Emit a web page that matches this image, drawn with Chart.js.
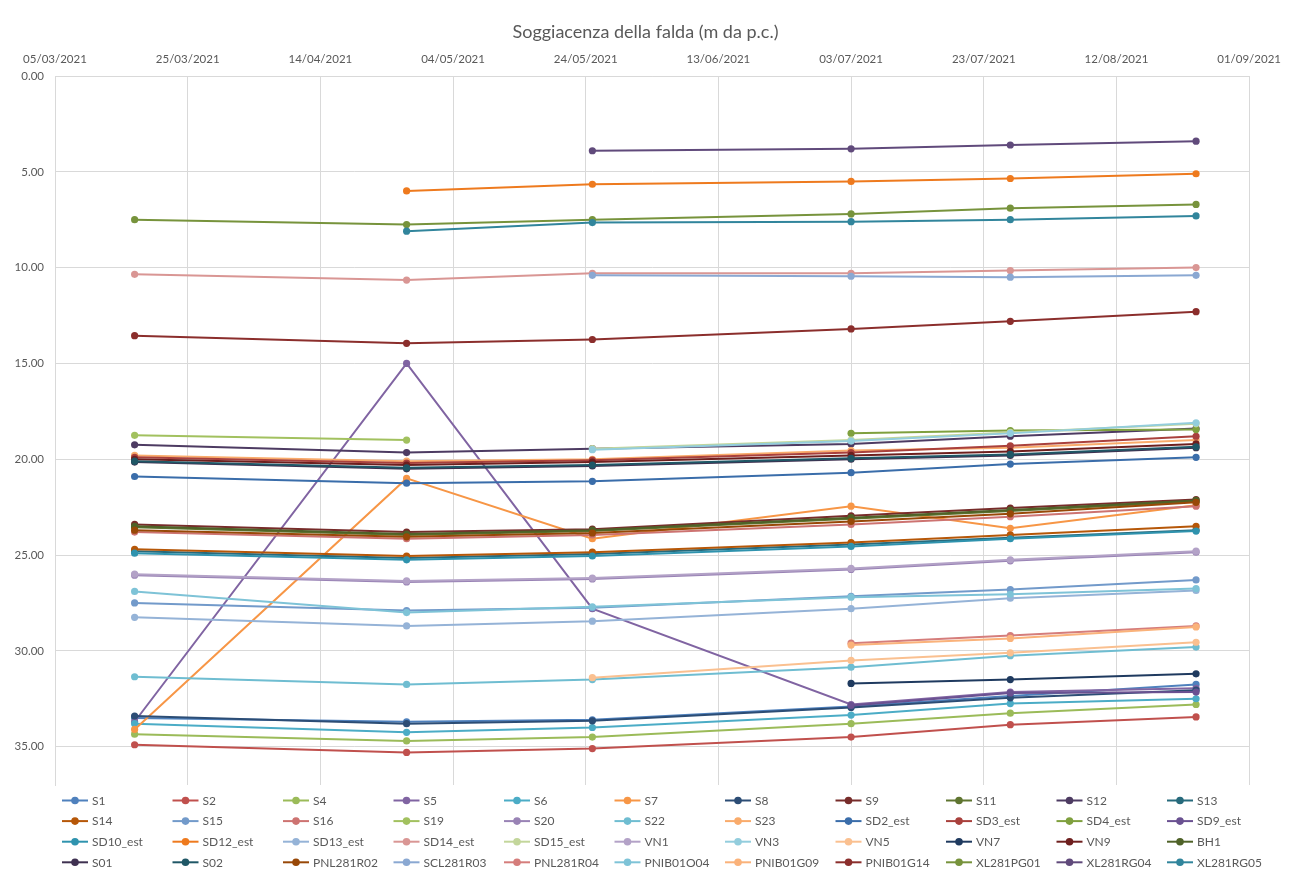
<!DOCTYPE html>
<html>
<head>
<meta charset="utf-8">
<script src="https://cdn.jsdelivr.net/npm/chart.js@4.4.1/dist/chart.umd.min.js"></script>
<style>
  html, body { margin: 0; padding: 0; background: #ffffff; }
  #c { display: block; }
</style>
</head>
<body>
<canvas id="c" width="1291" height="876"></canvas>
<script>
// Survey dates
const dates = ['17/03/2021', '27/04/2021', '25/05/2021', '03/07/2021', '27/07/2021', '24/08/2021'];

// Depth to water table (m below ground level), one value per survey date
const S1 = [33.5, 33.7, 33.6, 32.9, 32.35, 31.75];
const S2 = [34.9, 35.3, 35.1, 34.5, 33.85, 33.45];
const S4 = [34.35, 34.7, 34.5, 33.8, 33.25, 32.8];
const S5 = [33.7, 15.0, 27.8, 32.8, 32.15, 31.95];
const S6 = [33.8, 34.25, 34.0, 33.35, 32.75, 32.5];
const S7 = [34.1, 21.0, 24.15, 22.45, 23.6, 22.4];
const S8 = [33.4, 33.8, 33.65, 32.95, 32.45, 32.05];
const S9 = [23.4, 23.8, 23.65, 22.95, 22.55, 22.1];
const S11 = [23.55, 23.95, 23.75, 23.1, 22.7, 22.2];
const S12 = [19.25, 19.65, 19.45, 19.2, 18.8, 18.4];
const S13 = [24.8, 25.15, 24.95, 24.45, 24.1, 23.7];
const S14 = [24.7, 25.05, 24.85, 24.35, 23.95, 23.5];
const S15 = [27.5, 27.9, 27.75, 27.15, 26.8, 26.3];
const S16 = [23.8, 24.15, 23.95, 23.4, 23.0, 22.45];
const S19 = [18.75, 19.0, null, null, null, null];
const S20 = [26.05, 26.4, 26.25, 25.75, 25.3, 24.85];
const S22 = [31.35, 31.75, 31.5, 30.85, 30.25, 29.8];
const S23 = [19.8, 20.1, 20.0, 19.55, 19.4, 19.0];
const SD2_est = [20.9, 21.25, 21.15, 20.7, 20.25, 19.9];
const SD3_est = [19.9, 20.2, 20.05, 19.65, 19.3, 18.8];
const SD4_est = [null, null, null, 18.65, 18.5, 18.45];
const SD9_est = [null, null, null, 32.85, 32.2, 32.15];
const SD10_est = [24.9, 25.25, 25.05, 24.55, 24.15, 23.75];
const SD12_est = [null, 6.0, 5.65, 5.5, 5.35, 5.1];
const SD13_est = [28.25, 28.7, 28.45, 27.8, 27.25, 26.85];
const SD14_est = [10.35, 10.65, 10.3, 10.3, 10.15, 10.0];
const SD15_est = [null, null, 19.45, 19.0, 18.6, 18.15];
const VN1 = [26.0, 26.35, 26.2, 25.7, 25.25, 24.8];
const VN3 = [null, null, 19.5, 19.05, 18.65, 18.1];
const VN5 = [null, null, 31.4, 30.5, 30.1, 29.55];
const VN7 = [null, null, null, 31.7, 31.5, 31.2];
const VN9 = [20.0, 20.3, 20.15, 19.8, 19.6, 19.2];
const BH1 = [23.5, 23.9, 23.7, 23.05, 22.65, 22.15];
const S01 = [20.15, 20.5, 20.35, 20.0, 19.8, 19.4];
const S02 = [20.1, 20.45, 20.3, 19.95, 19.75, 19.35];
const PNL281R02 = [23.7, 24.05, 23.85, 23.25, 22.85, 22.25];
const SCL281R03 = [null, null, 10.4, 10.45, 10.5, 10.4];
const PNL281R04 = [null, null, null, 29.6, 29.2, 28.7];
const PNIB01O04 = [26.9, 28.0, 27.7, 27.2, 27.05, 26.75];
const PNIB01G09 = [null, null, null, 29.7, 29.35, 28.75];
const PNIB01G14 = [13.55, 13.95, 13.75, 13.2, 12.8, 12.3];
const XL281PG01 = [7.5, 7.75, 7.5, 7.2, 6.9, 6.7];
const XL281RG04 = [null, null, 3.9, 3.8, 3.6, 3.4];
const XL281RG05 = [null, 8.1, 7.65, 7.6, 7.5, 7.3];

const seriesNames = [
  'S1', 'S2', 'S4', 'S5', 'S6', 'S7', 'S8', 'S9', 'S11', 'S12', 'S13',
  'S14', 'S15', 'S16', 'S19', 'S20', 'S22', 'S23', 'SD2_est', 'SD3_est', 'SD4_est', 'SD9_est',
  'SD10_est', 'SD12_est', 'SD13_est', 'SD14_est', 'SD15_est', 'VN1', 'VN3', 'VN5', 'VN7', 'VN9', 'BH1',
  'S01', 'S02', 'PNL281R02', 'SCL281R03', 'PNL281R04', 'PNIB01O04', 'PNIB01G09', 'PNIB01G14', 'XL281PG01', 'XL281RG04', 'XL281RG05'
];
const seriesValues = [
  S1, S2, S4, S5, S6, S7, S8, S9, S11, S12, S13,
  S14, S15, S16, S19, S20, S22, S23, SD2_est, SD3_est, SD4_est, SD9_est,
  SD10_est, SD12_est, SD13_est, SD14_est, SD15_est, VN1, VN3, VN5, VN7, VN9, BH1,
  S01, S02, PNL281R02, SCL281R03, PNL281R04, PNIB01O04, PNIB01G09, PNIB01G14, XL281PG01, XL281RG04, XL281RG05
];
const seriesColors = [
  '#4F81BD', '#C0504D', '#9BBB59', '#8064A2', '#4BACC6', '#F79646', '#2C4D75', '#772C2A', '#5F7530', '#4D3B62', '#276A7C',
  '#B65708', '#729ACA', '#CD7371', '#A2C15F', '#9983B5', '#6FBDD1', '#F9AB6B', '#3A6DAA', '#A9403C', '#7FA03E', '#6A5191',
  '#2F93AE', '#EE7A1E', '#95B3D7', '#D99694', '#C3D69B', '#B3A2C7', '#93CDDD', '#FAC090', '#1F3A5F', '#6E1F1E', '#4F6228',
  '#3F3151', '#1F5766', '#984807', '#8AA8D2', '#D57D7B', '#7EC3D7', '#FAB27A', '#8B2E2C', '#77933C', '#604A7B', '#31859C'
];

// Time axis: days counted from 05/03/2021
const DAY = 86400000;
const START = Date.UTC(2021, 2, 5);
function dayOf(s) {
  const [d, m, y] = s.split('/').map(Number);
  return Math.round((Date.UTC(y, m - 1, d) - START) / DAY);
}
function fmtDay(v) {
  const dt = new Date(START + v * DAY);
  const dd = String(dt.getUTCDate()).padStart(2, '0');
  const mm = String(dt.getUTCMonth() + 1).padStart(2, '0');
  return dd + '/' + mm + '/' + dt.getUTCFullYear();
}
const xDays = dates.map(dayOf);

const datasets = seriesNames.map((name, i) => ({
  label: name,
  data: seriesValues[i].map((v, k) => (v === null ? null : { x: xDays[k], y: v })).filter(p => p !== null),
  borderColor: seriesColors[i],
  backgroundColor: seriesColors[i],
  pointBackgroundColor: seriesColors[i],
  pointBorderColor: seriesColors[i],
  borderWidth: 2,
  pointRadius: 3.6,
  pointBorderWidth: 0,
  tension: 0,
  yAxisID: 'y',
  order: seriesNames.length - i
}));

// Legend laid out as a fixed grid of 11 columns under the plot
const gridLegend = {
  id: 'gridLegend',
  afterDraw(chart) {
    const ctx = chart.ctx;
    ctx.save();
    ctx.font = '12px Lato';
    ctx.textBaseline = 'middle';
    ctx.textAlign = 'left';
    chart.data.datasets.forEach((ds, i) => {
      const col = i % 11;
      const row = Math.floor(i / 11);
      const x = 62 + col * 110.5;
      const y = 800.5 + row * 20.6;
      ctx.strokeStyle = ds.borderColor;
      ctx.lineWidth = 2;
      ctx.beginPath();
      ctx.moveTo(x, y);
      ctx.lineTo(x + 26, y);
      ctx.stroke();
      ctx.fillStyle = ds.borderColor;
      ctx.beginPath();
      ctx.arc(x + 13, y, 3.8, 0, Math.PI * 2);
      ctx.fill();
      ctx.fillStyle = '#595959';
      ctx.fillText(ds.label, x + 30, y + 0.5);
    });
    ctx.restore();
  }
};

new Chart(document.getElementById('c'), {
  type: 'line',
  data: { datasets },
  options: {
    responsive: false,
    animation: false,
    devicePixelRatio: 1,
    layout: { padding: { top: 0, left: 0, right: 0, bottom: 91 } },
    plugins: {
      legend: { display: false },
      tooltip: { enabled: false },
      title: {
        display: true,
        text: 'Soggiacenza della falda (m da p.c.)',
        color: '#595959',
        font: { family: 'Lato', size: 18, weight: 'normal' },
        padding: { top: 21, bottom: 7 }
      }
    },
    scales: {
      x: {
        type: 'linear',
        position: 'top',
        min: 0,
        max: 180,
        afterFit(s) { s.height = 76 - 49.6; },
        ticks: {
          stepSize: 20,
          color: '#595959',
          font: { family: 'Lato', size: 11.5 },
          padding: 10,
          maxRotation: 0,
          autoSkip: false,
          callback: v => fmtDay(v)
        },
        grid: { color: '#D9D9D9', lineWidth: 1, drawTicks: false },
        border: { color: '#D9D9D9' }
      },
      y: {
        type: 'linear',
        position: 'left',
        reverse: true,
        min: 0,
        max: 37,
        afterFit(s) { s.width = 55; },
        ticks: {
          stepSize: 5,
          includeBounds: false,
          color: '#595959',
          font: { family: 'Lato', size: 11.5 },
          padding: 11,
          callback: v => Number(v).toFixed(2)
        },
        grid: { color: '#D9D9D9', lineWidth: 1, drawTicks: false },
        border: { color: '#D9D9D9' }
      },
      // empty right-hand margin so the title centres on the whole chart
      yRight: {
        type: 'linear',
        position: 'right',
        min: 0,
        max: 37,
        afterFit(s) { s.width = 41; },
        ticks: { display: false },
        grid: { display: false, drawTicks: false },
        border: { display: false }
      }
    }
  },
  plugins: [gridLegend]
});
</script>
</body>
</html>
